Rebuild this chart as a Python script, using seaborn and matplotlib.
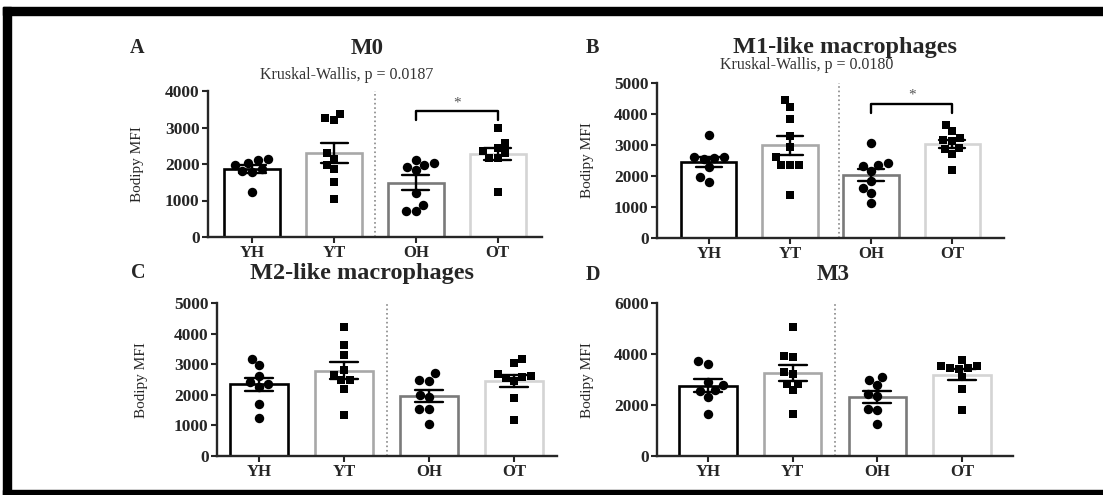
import matplotlib
matplotlib.use("Agg")
import matplotlib.pyplot as plt
from matplotlib.patches import Rectangle
import seaborn as sns
import pandas as pd

groups = ["YH", "YT", "OH", "OT"]

# M0
m0_yh = [2110, 1980, 2020, 2150, 1800, 1850, 1780, 1230]
m0_yt = [3370, 3200, 3250, 2150, 2300, 1980, 1850, 1500, 1050]
m0_oh = [1980, 1840, 1930, 2020, 2110, 1200, 880, 700, 700]
m0_ot = [2980, 2570, 2430, 2300, 2160, 2160, 2350, 1230]

# M1-like
m1_yh = [3310, 2580, 2560, 2600, 2600, 2300, 1820, 1970]
m1_yt = [4460, 4230, 3850, 3300, 2940, 2600, 2370, 2370, 2370, 1400]
m1_oh = [3060, 2420, 2370, 2310, 2150, 1830, 1610, 1450, 1130]
m1_ot = [3630, 3440, 3230, 3170, 3120, 2900, 2880, 2720, 2200]

# M2-like
m2_yh = [2960, 3180, 2600, 2420, 2360, 2250, 1690, 1240]
m2_yt = [4220, 3620, 3290, 2800, 2640, 2480, 2470, 2200, 1330]
m2_oh = [2480, 2460, 2710, 2000, 1930, 1540, 1520, 1050]
m2_ot = [3170, 3040, 2610, 2550, 2580, 2680, 2450, 1900, 1180]

# M3
m3_yh = [3730, 3620, 2900, 2770, 2580, 2550, 2310, 1630]
m3_yt = [5060, 3910, 3880, 3230, 3300, 2840, 2840, 2580, 1630]
m3_oh = [2970, 3100, 2770, 2450, 2350, 1860, 1790, 1270]
m3_ot = [3780, 3520, 3450, 3420, 3460, 3520, 3100, 2640, 1820]

edge_colors = ["#000000", "#a8a8a8", "#7a7a7a", "#d4d4d4"]

sns.set_style("ticks")
plt.rcParams["font.family"] = ["Liberation Serif", "DejaVu Serif"]

W, H = 1103, 495
fig = plt.figure(figsize=(W / 100, H / 100), dpi=100)


def fx(x):
    return x / W


def fy(y):
    return 1 - y / H


def make_df(yh, yt, oh, ot):
    rows = []
    for g, vals in zip(groups, [yh, yt, oh, ot]):
        rows += [(g, v) for v in vals]
    return pd.DataFrame(rows, columns=["group", "value"])


def panel(rect_px, df, ymax, xlim, divider=1.5):
    left, right, top, bottom = rect_px
    ax = fig.add_axes([fx(left), fy(bottom), fx(right - left), (bottom - top) / H])
    sns.barplot(data=df, x="group", y="value", order=groups, color="white",
                errorbar="se", capsize=0.33, width=0.68, linewidth=1.9,
                err_kws={"color": "black", "linewidth": 1.7}, ax=ax)
    for p, c in zip(ax.patches, edge_colors):
        p.set_edgecolor(c)
        p.set_facecolor("white")
    circ = df[df["group"].isin(["YH", "OH"])]
    sq = df[df["group"].isin(["YT", "OT"])]
    sns.swarmplot(data=circ, x="group", y="value", order=groups, marker="o",
                  color="black", size=6.8, ax=ax)
    sns.swarmplot(data=sq, x="group", y="value", order=groups, marker="s",
                  color="black", size=6.2, ax=ax)
    ax.axvline(divider, color="#888888", linestyle=":", linewidth=1.2, zorder=0)
    ax.set_xlim(*xlim)
    ax.set_ylim(0, ymax)
    ax.set_yticks(range(0, ymax + 1, 1000 if ymax <= 5000 else 2000))
    ax.set_xlabel("")
    ax.set_ylabel("")
    sns.despine(ax=ax)
    for s in ["left", "bottom"]:
        ax.spines[s].set_linewidth(1.7)
    ax.tick_params(axis="both", width=1.5, length=4, pad=2)
    for t in ax.get_yticklabels():
        t.set_fontweight("bold")
        t.set_fontsize(12.5)
    for t in ax.get_xticklabels():
        t.set_fontweight("bold")
        t.set_fontsize(12)
    return ax


def bracket(ax, y, drop, star_y):
    ax.plot([2, 2, 3, 3], [y - drop, y, y, y - drop], color="black", linewidth=1.7)
    ax.text(2.5, star_y, "*", ha="center", va="center", fontsize=11, color="#555555")


# Panel A
axA = panel((208, 542, 91, 237), make_df(m0_yh, m0_yt, m0_oh, m0_ot), 4000, (-0.54, 3.54))
bracket(axA, 3440, 240, 3680)
# Panel B
axB = panel((657, 1004, 83, 238), make_df(m1_yh, m1_yt, m1_oh, m1_ot), 5000, (-0.64, 3.64), 1.6)
bracket(axB, 4330, 300, 4620)
# Panel C
axC = panel((217, 557, 303, 456), make_df(m2_yh, m2_yt, m2_oh, m2_ot), 5000, (-0.49, 3.5))
# Panel D
axD = panel((657, 1013, 303, 456), make_df(m3_yh, m3_yt, m3_oh, m3_ot), 6000, (-0.6, 3.6))

# titles and panel letters
fig.text(fx(137), fy(48), "A", fontsize=14.5, fontweight="bold", ha="center", va="center")
fig.text(fx(367), fy(48), "M0", fontsize=16.5, fontweight="bold", ha="center", va="center")
fig.text(fx(347), fy(75), "Kruskal-Wallis, p = 0.0187", fontsize=11.5, ha="center",
         va="center", color="#333333")
fig.text(fx(592), fy(48), "B", fontsize=14.5, fontweight="bold", ha="center", va="center")
fig.text(fx(845), fy(48), "M1-like macrophages", fontsize=17.5, fontweight="bold",
         ha="center", va="center")
fig.text(fx(807), fy(65), "Kruskal-Wallis, p = 0.0180", fontsize=11.5, ha="center",
         va="center", color="#333333")
fig.text(fx(138), fy(273), "C", fontsize=14.5, fontweight="bold", ha="center", va="center")
fig.text(fx(362), fy(273), "M2-like macrophages", fontsize=17.5, fontweight="bold",
         ha="center", va="center")
fig.text(fx(593), fy(275), "D", fontsize=14.5, fontweight="bold", ha="center", va="center")
fig.text(fx(833), fy(275), "M3", fontsize=16.5, fontweight="bold", ha="center", va="center")

# y labels
for x, y in [(138, 164), (588, 160), (142, 380), (588, 380)]:
    fig.text(fx(x), fy(y), "Bodipy MFI", fontsize=11, rotation=90,
             ha="center", va="center")

# black frame around the figure
for (x0, y0, x1, y1) in [(3, 7, W, 15), (3, 7, 11, H), (3, 490, W, H)]:
    fig.patches.append(Rectangle((fx(x0), fy(y1)), fx(x1 - x0), (y1 - y0) / H,
                                 transform=fig.transFigure, color="black", zorder=10))

fig.savefig("out.png", dpi=100)
